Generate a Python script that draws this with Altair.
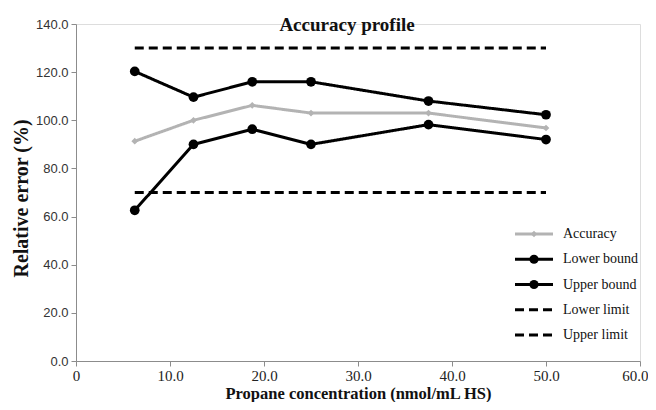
import altair as alt
import pandas as pd

# ---- data ----
title_text = "Accuracy profile"
x_vals = [6.25, 12.5, 18.75, 25.0, 37.5, 50.0]
accuracy = [91.3, 100.0, 106.2, 103.0, 103.0, 96.8]
lower_bound = [62.6, 90.0, 96.3, 90.0, 98.2, 92.0]
upper_bound = [120.3, 109.6, 116.0, 116.0, 108.0, 102.3]
lower_limit = [70.0, 70.0, 70.0, 70.0, 70.0, 70.0]
upper_limit = [130.0, 130.0, 130.0, 130.0, 130.0, 130.0]

series_names = ["Accuracy", "Lower bound", "Upper bound", "Lower limit", "Upper limit"]
series_values = [accuracy, lower_bound, upper_bound, lower_limit, upper_limit]
series_colors = ["#b3b3b3", "#000000", "#000000", "#000000", "#000000"]
series_dash = [[1, 0], [1, 0], [1, 0], [9, 5], [9, 5]]

rows = []
for name, vals in zip(series_names, series_values):
    for i, (x, v) in enumerate(zip(x_vals, vals)):
        rows.append({"series": name, "x": x, "y": v, "idx": i})
df = pd.DataFrame(rows)
legend_df = pd.DataFrame({"series": series_names})
title_df = pd.DataFrame({"t": [title_text]})

serif = "Liberation Serif"
sans = "Liberation Sans"

x_enc = alt.X(
    "x:Q",
    scale=alt.Scale(domain=[0, 60], nice=False),
    axis=alt.Axis(
        values=[0, 10, 20, 30, 40, 50, 60],
        labelExpr="datum.value == 0 ? '0' : format(datum.value, '.1f')",
        title="Propane concentration (nmol/mL HS)",
        titleFont=serif, titleFontSize=16.5, titleFontWeight="bold", titleColor="#111",
        titlePadding=2,
        labelFont=serif, labelFontSize=15, labelColor="#222", labelPadding=2,
        labelAlign={"condition": {"test": "datum.value == 60", "value": "right"}, "value": "center"},
        labelOffset={"condition": {"test": "datum.value == 60", "value": 8}, "value": 0},
        domainColor="#8c8c8c", tickColor="#8c8c8c", tickSize=5, grid=False,
    ),
)
y_enc = alt.Y(
    "y:Q",
    scale=alt.Scale(domain=[0, 140], nice=False),
    axis=alt.Axis(
        values=[0, 20, 40, 60, 80, 100, 120, 140],
        format=".1f",
        title="Relative error (%)",
        titleFont=serif, titleFontSize=20, titleFontWeight="bold", titleColor="#111",
        titlePadding=4, titleY=174,
        labelFont=sans, labelFontSize=13, labelColor="#333", labelPadding=3,
        domainColor="#8c8c8c", tickColor="#8c8c8c", tickSize=5, grid=False,
    ),
)

color_scale = alt.Scale(domain=series_names, range=series_colors)
dash_scale = alt.Scale(domain=series_names, range=series_dash)

lines = alt.Chart(df).mark_line(strokeWidth=3).encode(
    x=x_enc,
    y=y_enc,
    color=alt.Color("series:N", scale=color_scale, legend=None),
    strokeDash=alt.StrokeDash("series:N", scale=dash_scale, legend=None),
    order="idx:Q",
)

circles = alt.Chart(df).transform_filter(
    "datum.series == 'Lower bound' || datum.series == 'Upper bound'"
).mark_point(shape="circle", filled=True, size=95, opacity=1, color="#000000").encode(x="x:Q", y="y:Q")

diamonds = alt.Chart(df).transform_filter(
    "datum.series == 'Accuracy'"
).mark_point(shape="diamond", filled=True, size=45, opacity=1, color="#b3b3b3").encode(x="x:Q", y="y:Q")

title_mark = alt.Chart(title_df).mark_text(
    font=serif, fontSize=19, fontWeight="bold", color="#111", align="center", baseline="alphabetic"
).encode(x=alt.value(271), y=alt.value(6.5), text="t:N")

main = alt.layer(lines, diamonds, circles, title_mark)

# ---- legend drawn from the series names ----
leg_y = alt.Y("series:N", scale=alt.Scale(type="point", domain=series_names, range=[210, 311], padding=0), axis=None)
leg_base = alt.Chart(legend_df).encode(y=leg_y)

leg_lines = leg_base.mark_rule(strokeWidth=3).encode(
    x=alt.value(439), x2=alt.value(477),
    color=alt.Color("series:N", scale=color_scale, legend=None),
    strokeDash=alt.StrokeDash("series:N", scale=dash_scale, legend=None),
)
leg_circles = leg_base.transform_filter(
    "datum.series == 'Lower bound' || datum.series == 'Upper bound'"
).mark_point(shape="circle", filled=True, size=85, opacity=1, color="#000000").encode(x=alt.value(458))
leg_diamonds = leg_base.transform_filter(
    "datum.series == 'Accuracy'"
).mark_point(shape="diamond", filled=True, size=40, opacity=1, color="#b3b3b3").encode(x=alt.value(458))
leg_text = leg_base.mark_text(
    font=serif, fontSize=14, color="#111", align="left", baseline="middle"
).encode(x=alt.value(487), text="series:N")

legend = alt.layer(leg_lines, leg_diamonds, leg_circles, leg_text)

chart = alt.layer(main, legend).resolve_scale(y="independent").properties(
    width=564,
    height=337,
    autosize=alt.AutoSizeParams(type="none"),
    padding={"left": 68, "top": 16, "right": 8, "bottom": 41},
).configure_view(stroke=None).configure(background="white")

chart.save("out.html", embed_options={"renderer": "svg", "actions": False})
